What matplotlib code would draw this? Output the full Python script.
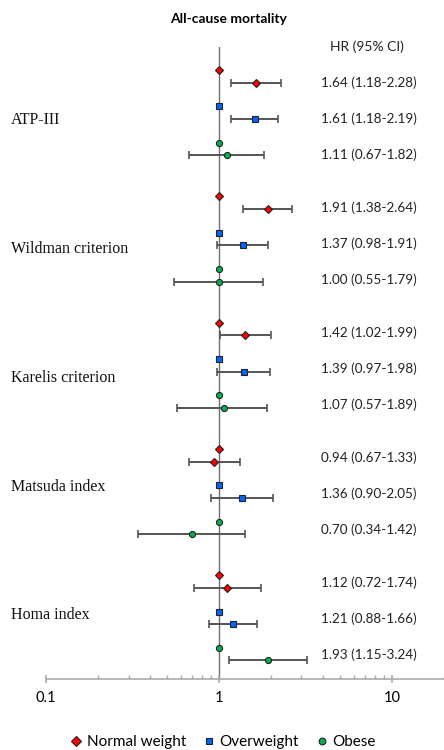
import matplotlib.pyplot as plt
import matplotlib.transforms as mtransforms
import numpy as np

# --- data ---
groups = ["ATP-III", "Wildman criterion", "Karelis criterion",
          "Matsuda index", "Homa index"]
series = ["Normal weight", "Overweight", "Obese"]

# HR, lower CI, upper CI  (rows: group, cols: series)
hr = [[1.64, 1.61, 1.11],
      [1.91, 1.37, 1.00],
      [1.42, 1.39, 1.07],
      [0.94, 1.36, 0.70],
      [1.12, 1.21, 1.93]]
lo = [[1.18, 1.18, 0.67],
      [1.38, 0.98, 0.55],
      [1.02, 0.97, 0.57],
      [0.67, 0.90, 0.34],
      [0.72, 0.88, 1.15]]
hi = [[2.28, 2.19, 1.82],
      [2.64, 1.91, 1.79],
      [1.99, 1.98, 1.89],
      [1.33, 2.05, 1.42],
      [1.74, 1.66, 3.24]]
REF = 1.0

# --- style ---
colors = ["#ff0000", "#0066ff", "#00b050"]
markers = ["D", "s", "o"]
msizes = [4.2, 4.3, 4.4]
SANS = ["Lato", "DejaVu Sans"]
SERIF = ["Liberation Serif", "DejaVu Serif"]

# layout in pixel-like units from the top
GROUP_STEP = 126.3
ROW_STEP = 36.3
HR_OFFSET = 12.6
FIRST_REF = 70
TEXT_FIRST, TEXT_GSTEP, TEXT_RSTEP = 83, 125, 36
label_y = [120, 249, 378, 487, 615]

fig = plt.figure(figsize=(4.44, 7.5), dpi=100)
ax = fig.add_axes([46 / 444, 71 / 750, 398 / 444, 632 / 750])
ax.set_xscale("log")
ax.set_xlim(0.1, 20)
ax.set_ylim(679, 47)

ax.axvline(REF, color="#707070", linewidth=1, zorder=1)

hr = np.array(hr)
lo = np.array(lo)
hi = np.array(hi)
for s in range(3):
    ref_y = FIRST_REF + np.arange(5) * GROUP_STEP + s * ROW_STEP
    hr_y = ref_y + HR_OFFSET
    ax.errorbar(hr[:, s], hr_y, xerr=[hr[:, s] - lo[:, s], hi[:, s] - hr[:, s]],
                fmt="none", ecolor="#555555", elinewidth=1.4, capsize=3,
                capthick=1.2, zorder=2)
    ax.plot(np.full(5, REF), ref_y, linestyle="none", marker=markers[s],
            markersize=msizes[s], markerfacecolor=colors[s],
            markeredgecolor="#222222", markeredgewidth=0.8, zorder=3)
    ax.plot(hr[:, s], hr_y, linestyle="none", marker=markers[s],
            markersize=msizes[s], markerfacecolor=colors[s],
            markeredgecolor="#222222", markeredgewidth=0.8, zorder=3,
            label=series[s])

# HR text column
trans = mtransforms.blended_transform_factory(ax.transAxes, ax.transData)
for g in range(5):
    for s in range(3):
        ty = TEXT_FIRST + g * TEXT_GSTEP + s * TEXT_RSTEP
        ax.text(0.691, ty, f"{hr[g, s]:.2f} ({lo[g, s]:.2f}-{hi[g, s]:.2f})",
                transform=trans, ha="left", va="center", fontsize=9.7,
                family=SANS, color="#222222")
ax.text(0.806, 47, "HR (95% CI)", transform=trans, ha="center", va="center",
        fontsize=10, family=SANS, color="#222222")

# group labels
for g, name in enumerate(groups):
    fig.text(11 / 444, 1 - label_y[g] / 750, name, ha="left", va="center",
             fontsize=11.5, family=SERIF, color="#111111")

fig.text(229 / 444, 1 - 19 / 750, "All-cause mortality", ha="center",
         va="center", fontsize=10, fontweight="bold", family=SANS)

# axes styling
for side in ["top", "right", "left"]:
    ax.spines[side].set_visible(False)
ax.spines["bottom"].set_color("#aaaaaa")
ax.spines["bottom"].set_linewidth(1.2)
ax.set_yticks([])
ax.set_xticks([0.1, 1, 10])
ax.set_xticklabels(["0.1", "1", "10"], family=SANS, fontsize=10.5)
ax.tick_params(axis="x", which="major", direction="inout", length=6,
               color="#aaaaaa", width=1.2, pad=6)
ax.tick_params(axis="x", which="minor", direction="in", length=3,
               color="#aaaaaa", width=1)
ax.patch.set_alpha(0)

fig.legend(loc="center", bbox_to_anchor=(222 / 444, 1 - 742 / 750), ncol=3,
           frameon=False, prop={"family": SANS, "size": 11}, handletextpad=0.2,
           columnspacing=1.0, handlelength=1.0, markerscale=1.1)

fig.savefig("out.png", dpi=100)
